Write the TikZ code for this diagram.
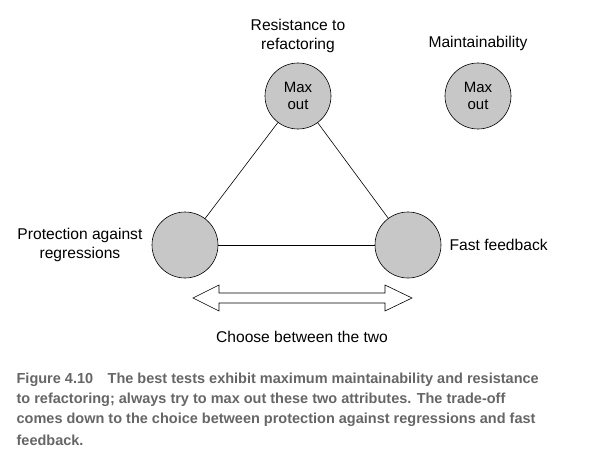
\documentclass[tikz,border=0pt]{standalone}
\usepackage{fontspec}
\setmainfont{Liberation Sans}
\begin{document}
\begin{tikzpicture}[x=1pt,y=-1pt,line width=0.6pt,
  circ/.style={circle,draw=black,fill=black!22,minimum size=66pt,inner sep=0pt,align=center,font=\fontsize{15}{17}\selectfont},
  lbl/.style={align=center,font=\fontsize{15.6}{19}\selectfont},
  captext/.style={anchor=west,font=\fontsize{14.5}{16}\selectfont\bfseries,text=black!60}]
\useasboundingbox (0,0) rectangle (600,460);
\node[circ] (top) at (298,96) {Max\\out};
\node[circ] (mt) at (478,96) {Max\\out};
\node[circ] (l) at (185,245) {};
\node[circ] (r) at (408,245) {};
\draw (top) -- (l); \draw (top) -- (r); \draw (l) -- (r);
\node[lbl] (t1) at (298,36) {Resistance to\\refactoring};
\node[lbl] (t2) at (478,43) {Maintainability};
\node[lbl,anchor=east] (t3) at (146,245) {Protection against\\regressions};
\node[lbl,anchor=west] (t4) at (446,245) {Fast feedback};
\draw[fill=white] (193,298) -- (219,285) -- (219,293) -- (385,293) -- (385,285) -- (412,298) -- (385,311) -- (385,303) -- (219,303) -- (219,311) -- cycle;
\node[lbl] (ch) at (302,337) {Choose between the two};
\node[captext] (c1) at (13,380) {Figure 4.10\quad The best tests exhibit maximum maintainability and resistance};
\node[captext] (c2) at (13,400) {to refactoring; always try to max out these two attributes. The trade-off};
\node[captext] (c3) at (13,420) {comes down to the choice between protection against regressions and fast};
\node[captext] (c4) at (13,440) {feedback.};
\end{tikzpicture}
\end{document}
